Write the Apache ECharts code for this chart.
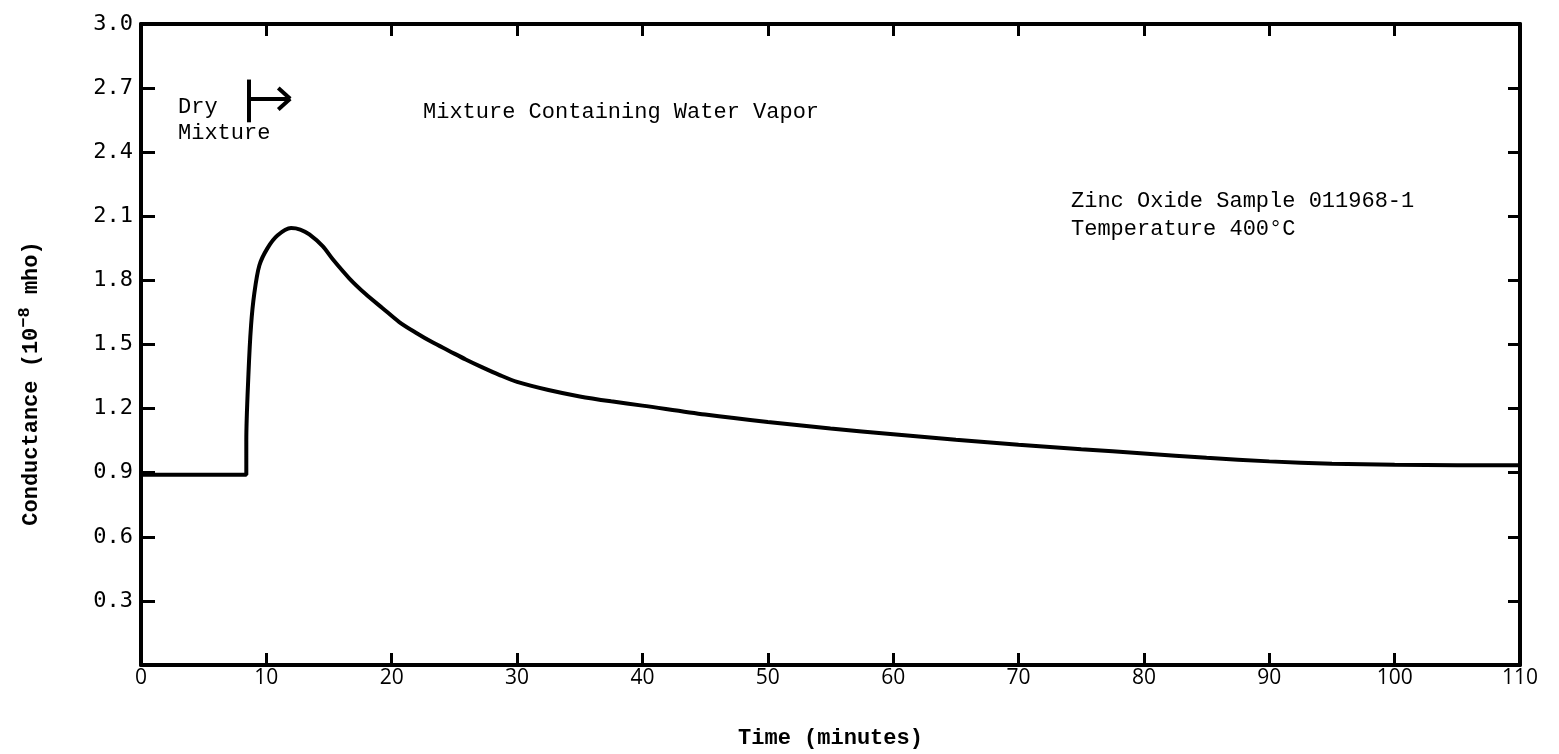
<!DOCTYPE html>
<html><head><meta charset="utf-8">
<script src="https://cdn.jsdelivr.net/npm/echarts@6/dist/echarts.min.js"></script>
<style>html,body{margin:0;padding:0;background:#fff}#c{width:1559px;height:754px}</style>
</head><body><div id="c"></div>
<script>
// Time (minutes)
const timeMin = [0, 8.4, 8.4, 8.57, 8.78, 9.04, 9.44, 10.08, 10.88, 11.97, 12.7, 13.43, 14.49, 15.28, 16.61, 17.94, 19.27, 20.6, 21.93, 23.25, 24.58, 25.9, 27.23, 28.57, 30, 32.5, 35, 37.5, 40, 45, 50, 55, 60, 65, 70, 75, 80, 85, 90, 95, 100, 105, 110];
// Conductance (10^-8 mho)
const conductance = [0.89, 0.89, 1.05, 1.36, 1.59, 1.74, 1.87, 1.95, 2.01, 2.045, 2.038, 2.015, 1.96, 1.9, 1.81, 1.735, 1.67, 1.605, 1.555, 1.51, 1.47, 1.43, 1.393, 1.358, 1.325, 1.287, 1.257, 1.234, 1.214, 1.172, 1.137, 1.107, 1.08, 1.054, 1.031, 1.01, 0.99, 0.97, 0.953, 0.942, 0.937, 0.935, 0.935];
const xTickLabels = ['0','10','20','30','40','50','60','70','80','90','100','110'];
const yTickLabels = ['', '0.3','0.6','0.9','1.2','1.5','1.8','2.1','2.4','2.7','3.0'];
// "Dry -> Mixture" marker (data coordinates)
const markerBar = [[8.6, 2.54], [8.6, 2.74]];
const markerArrow = [[8.6, 2.65], [11.9, 2.65]];
const markerHeadA = [[10.95, 2.70], [11.9, 2.65]];
const markerHeadB = [[10.95, 2.60], [11.9, 2.65]];

const mono = '"Liberation Mono", "DejaVu Sans Mono", monospace';
const chart = echarts.init(document.getElementById('c'));
const seg = p => [{coord: p[0]}, {coord: p[1]}];
const axisLine = {show: true, onZero: false, lineStyle: {color: '#000', width: 4}};
chart.setOption({
  animation: false,
  backgroundColor: '#fff',
  grid: {left: 141, right: 39, top: 24, bottom: 86},
  xAxis: [{
    type: 'value', min: 0, max: 110, interval: 10, position: 'bottom',
    axisLine: axisLine,
    axisTick: {show: true, inside: true, length: 12, lineStyle: {color: '#000', width: 3}},
    axisLabel: {color: '#000', fontFamily: '"Open Sans", "DejaVu Sans", sans-serif', fontSize: 21, margin: 3,
      formatter: v => xTickLabels[Math.round(v / 10)]},
    splitLine: {show: false},
    name: 'Time (minutes)', nameLocation: 'middle', nameGap: 62,
    nameTextStyle: {color: '#000', fontFamily: mono, fontSize: 22, fontWeight: 'bold'}
  }, {
    type: 'value', min: 0, max: 110, interval: 10, position: 'top',
    axisLine: axisLine,
    axisTick: {show: true, inside: true, length: 12, lineStyle: {color: '#000', width: 3}},
    axisLabel: {show: false}, splitLine: {show: false}
  }],
  yAxis: [{
    type: 'value', min: 0, max: 3, interval: 0.3, position: 'left',
    axisLine: axisLine,
    axisTick: {show: true, inside: true, length: 14, lineStyle: {color: '#000', width: 3}},
    axisLabel: {color: '#000', fontFamily: '"DejaVu Sans Mono", monospace', fontSize: 22, margin: 8,
      formatter: v => yTickLabels[Math.round(v / 0.3)]},
    splitLine: {show: false},
    name: '{a|Conductance (10}{s|−8}{a| mho)}', nameLocation: 'middle', nameGap: 94, nameRotate: 90,
    nameTextStyle: {color: '#000', padding: [0, 78, 0, 0], rich: {
      a: {fontFamily: mono, fontSize: 22, fontWeight: 'bold', color: '#000'},
      s: {fontFamily: mono, fontSize: 17, fontWeight: 'bold', color: '#000', verticalAlign: 'bottom', padding: [0, 0, 14, 0]}
    }}
  }, {
    type: 'value', min: 0, max: 3, interval: 0.3, position: 'right',
    axisLine: axisLine,
    axisTick: {show: true, inside: true, length: 12, lineStyle: {color: '#000', width: 3}},
    axisLabel: {show: false}, splitLine: {show: false}
  }],
  series: [{
    type: 'line',
    data: timeMin.map((t, i) => [t, conductance[i]]),
    showSymbol: false, symbol: 'none',
    smooth: 0.3,
    lineStyle: {color: '#000', width: 4},
    silent: true,
    markLine: {
      silent: true, symbol: ['none', 'none'], label: {show: false},
      lineStyle: {color: '#000', width: 4, type: 'solid'},
      emphasis: {disabled: true},
      data: [seg(markerBar), seg(markerArrow), seg(markerHeadA), seg(markerHeadB)]
    }
  }],
  graphic: [
    {type: 'text', left: 178, top: 96, style: {text: 'Dry', font: '22px ' + mono, fill: '#000'}},
    {type: 'text', left: 178, top: 122, style: {text: 'Mixture', font: '22px ' + mono, fill: '#000'}},
    {type: 'text', left: 423, top: 101, style: {text: 'Mixture Containing Water Vapor', font: '22px ' + mono, fill: '#000'}},
    {type: 'text', left: 1071, top: 190, style: {text: 'Zinc Oxide Sample 011968-1', font: '22px ' + mono, fill: '#000'}},
    {type: 'text', left: 1071, top: 218, style: {text: 'Temperature 400°C', font: '22px ' + mono, fill: '#000'}}
  ]
});
</script>
</body></html>
